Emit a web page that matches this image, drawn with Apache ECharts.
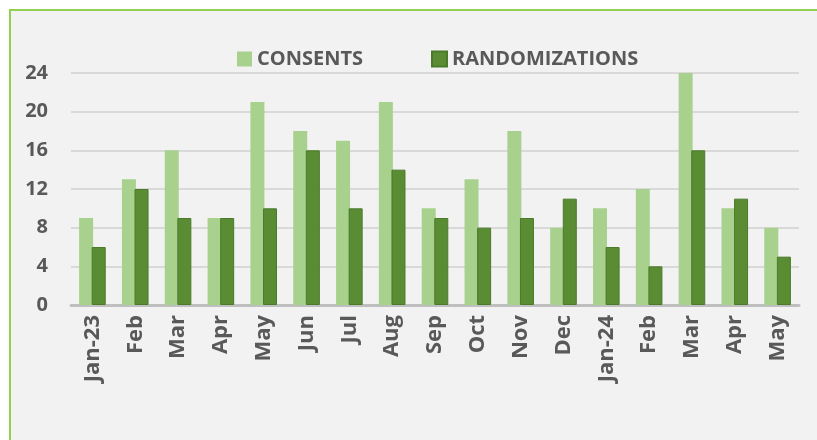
<!DOCTYPE html>
<html><head><meta charset="utf-8">
<script src="https://cdn.jsdelivr.net/npm/echarts@6/dist/echarts.min.js"></script>
<style>
html,body{margin:0;padding:0;background:#ffffff;overflow:hidden;width:817px;height:440px;}
#bg{position:absolute;left:9px;top:9px;width:900px;height:500px;background:#f2f2f2;border-top:2px solid #92d050;border-left:2px solid #92d050;}
#c{position:absolute;left:0;top:0;width:817px;height:440px;}
</style>
</head><body><div id="bg"></div><div id="c"></div>
<script>
var categories = ["Jan-23","Feb","Mar","Apr","May","Jun","Jul","Aug","Sep","Oct","Nov","Dec","Jan-24","Feb","Mar","Apr","May"];
var consents = [9,13,16,9,21,18,17,21,10,13,18,8,10,12,24,10,8];
var randomizations = [6,12,9,9,10,16,10,14,9,8,9,11,6,4,16,11,5];
var seriesNames = ["CONSENTS","RANDOMIZATIONS"];
var yTicks = {min:0, max:24, interval:4};

var FONT = "'Open Sans', sans-serif";
var chart = echarts.init(document.getElementById('c'), null, {renderer:'canvas'});
chart.setOption({
  backgroundColor: 'transparent',
  animation: false,
  legend: {
    data: seriesNames,
    top: 44, left: 232,
    itemWidth: 15, itemHeight: 15, itemGap: 68,
    textStyle: {fontFamily: FONT, fontWeight: 'bold', fontSize: 20, color: '#595959'},
    icon: 'rect'
  },
  grid: {left: 71, right: 18, top: 73, bottom: 135, containLabel: false},
  xAxis: {
    type: 'category', data: categories,
    axisLine: {lineStyle: {color: '#bfbfbf', width: 3}},
    axisTick: {show: false},
    axisLabel: {rotate: 90, margin: 10, fontFamily: FONT, fontWeight: 'bold', fontSize: 22, color: '#595959', interval: 0}
  },
  yAxis: {
    type: 'value', min: yTicks.min, max: yTicks.max, interval: yTicks.interval,
    axisLine: {show: false}, axisTick: {show: false},
    splitLine: {lineStyle: {color: '#d9d9d9', width: 2}},
    axisLabel: {margin: 23, fontFamily: FONT, fontWeight: 'bold', fontSize: 20, color: '#595959'}
  },
  series: [
    {name: seriesNames[0], type: 'bar', data: consents, barWidth: 14, barGap: '-10%',
     itemStyle: {color: '#a9d18e'}},
    {name: seriesNames[1], type: 'bar', data: randomizations, barWidth: 14,
     itemStyle: {color: '#5a8c34', borderColor: '#4a7a2a', borderWidth: 1}}
  ]
});
</script></body></html>
